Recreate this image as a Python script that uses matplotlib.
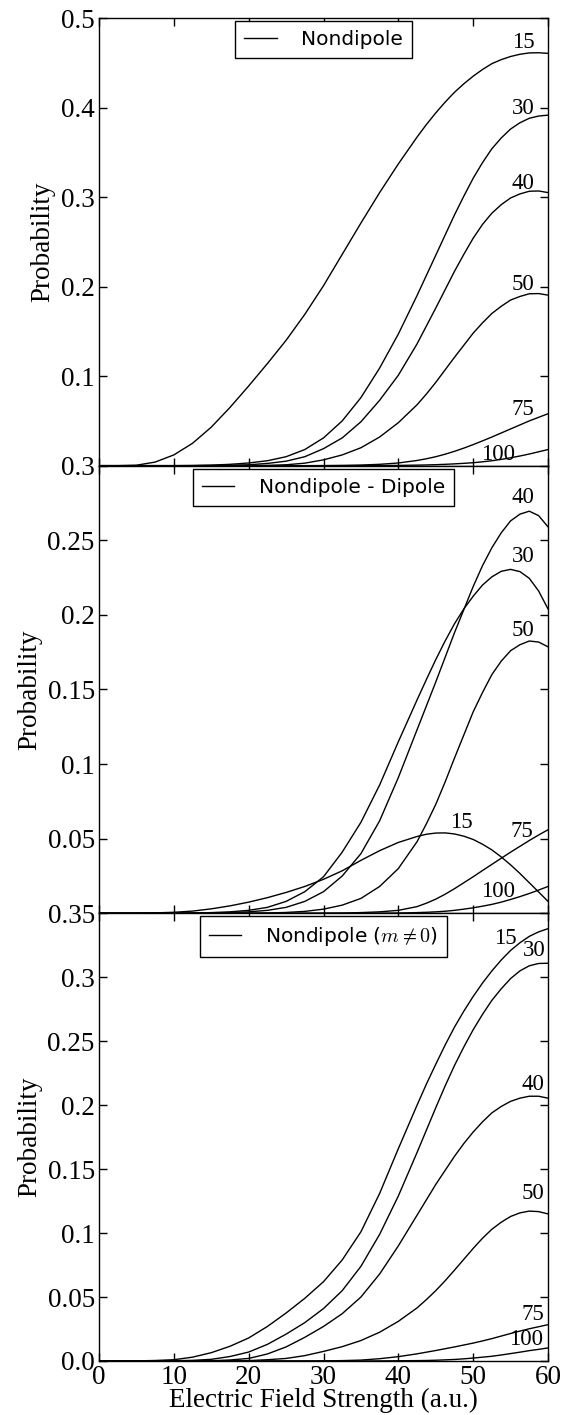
import matplotlib
matplotlib.use("Agg")
import matplotlib.pyplot as plt

# field strength grid (a.u.): every 2.5 up to 42.5, then every 1.25
field = [0, 2.5, 5, 7.5, 10, 12.5, 15, 17.5, 20, 22.5, 25, 27.5, 30, 32.5, 35,
         37.5, 40, 42.5, 43.75, 45, 46.25, 47.5, 48.75, 50, 51.25, 52.5, 53.75,
         55, 56.25, 57.5, 58.75, 60]

# --- panel 1: Nondipole
p1_15 = [0, 0, 0.0005, 0.004, 0.012, 0.025, 0.043, 0.065, 0.089, 0.114, 0.140, 0.169,
         0.201, 0.236, 0.271, 0.305, 0.337, 0.367,
         0.381, 0.394, 0.406, 0.417, 0.4265, 0.435, 0.4425, 0.449, 0.4535, 0.457,
         0.4595, 0.461, 0.4612, 0.4605]
p1_30 = [0, 0, 0, 0, 0, 0.0002, 0.0006, 0.0015, 0.003, 0.0055, 0.010, 0.018,
         0.031, 0.050, 0.076, 0.109, 0.147, 0.190,
         0.2125, 0.235, 0.2575, 0.280, 0.301, 0.321, 0.3385, 0.354, 0.366, 0.376,
         0.383, 0.388, 0.3905, 0.3915]
p1_40 = [0, 0, 0, 0, 0, 0, 0.0002, 0.0005, 0.001, 0.0025, 0.005, 0.010,
         0.019, 0.031, 0.049, 0.073, 0.101, 0.136,
         0.156, 0.176, 0.1965, 0.217, 0.236, 0.254, 0.2695, 0.282, 0.2915, 0.299,
         0.3035, 0.3065, 0.3068, 0.305]
p1_50 = [0, 0, 0, 0, 0, 0, 0, 0, 0, 0.0003, 0.001, 0.0028,
         0.0065, 0.012, 0.020, 0.032, 0.048, 0.068,
         0.080, 0.093, 0.107, 0.121, 0.1345, 0.148, 0.1595, 0.170, 0.178, 0.185,
         0.189, 0.192, 0.1922, 0.1905]
p1_75 = [0, 0, 0, 0, 0, 0, 0, 0, 0, 0, 0, 0,
         0.0001, 0.0003, 0.0007, 0.0015, 0.003, 0.0058,
         0.0077, 0.010, 0.0128, 0.016, 0.0196, 0.0235, 0.0277, 0.032, 0.0365, 0.041,
         0.0455, 0.050, 0.054, 0.058]
p1_100 = [0, 0, 0, 0, 0, 0, 0, 0, 0, 0, 0, 0,
          0, 0, 0, 0.0001, 0.0003, 0.0006,
          0.0008, 0.0011, 0.0015, 0.002, 0.0026, 0.0033, 0.0043, 0.0055, 0.007, 0.0088,
          0.0108, 0.013, 0.0155, 0.018]

# --- panel 2: Nondipole - Dipole
p2_15 = [0, 0, 0.0001, 0.0003, 0.0007, 0.0015, 0.003, 0.005, 0.0075, 0.0105, 0.014, 0.018,
         0.0228, 0.0285, 0.0355, 0.042, 0.0475, 0.0515,
         0.0530, 0.0538, 0.0539, 0.0532, 0.0517, 0.0495, 0.0463, 0.0425, 0.0378, 0.0325,
         0.0267, 0.0205, 0.0143, 0.008]
p2_30 = [0, 0, 0, 0, 0, 0.0002, 0.0005, 0.001, 0.002, 0.004, 0.008, 0.0145,
         0.0245, 0.041, 0.061, 0.086, 0.115, 0.143,
         0.1567, 0.170, 0.1825, 0.194, 0.2040, 0.2125, 0.2200, 0.2255, 0.2292, 0.2305,
         0.2290, 0.2245, 0.2160, 0.204]
p2_40 = [0, 0, 0, 0, 0, 0, 0.0002, 0.0005, 0.001, 0.002, 0.004, 0.008,
         0.0145, 0.025, 0.040, 0.062, 0.091, 0.123,
         0.139, 0.155, 0.1715, 0.188, 0.2035, 0.219, 0.233, 0.245, 0.255, 0.263,
         0.2675, 0.2695, 0.2665, 0.259]
p2_50 = [0, 0, 0, 0, 0, 0, 0, 0, 0, 0.0002, 0.0006, 0.0013,
         0.0028, 0.0055, 0.010, 0.018, 0.030, 0.048,
         0.060, 0.073, 0.088, 0.104, 0.1195, 0.135, 0.148, 0.160, 0.169, 0.176,
         0.180, 0.1825, 0.1818, 0.1786]
p2_75 = [0, 0, 0, 0, 0, 0, 0, 0, 0, 0, 0, 0,
         0.0001, 0.0002, 0.0005, 0.001, 0.002, 0.0045,
         0.0068, 0.0095, 0.0128, 0.0165, 0.0205, 0.0245, 0.0287, 0.0328, 0.0369, 0.041,
         0.0449, 0.0488, 0.0525, 0.056]
p2_100 = [0, 0, 0, 0, 0, 0, 0, 0, 0, 0, 0, 0,
          0, 0, 0, 0.0001, 0.0002, 0.0005,
          0.0007, 0.001, 0.0014, 0.002, 0.0028, 0.0037, 0.0048, 0.006, 0.0075, 0.0093,
          0.0112, 0.0133, 0.0156, 0.018]

# --- panel 3: Nondipole (m != 0)
p3_15 = [0, 0, 0.0001, 0.0004, 0.001, 0.003, 0.0065, 0.0115, 0.018, 0.027, 0.0375, 0.049,
         0.062, 0.079, 0.101, 0.131, 0.166, 0.200,
         0.2165, 0.232, 0.247, 0.261, 0.2735, 0.285, 0.2955, 0.305, 0.3135, 0.321,
         0.327, 0.332, 0.3355, 0.338]
p3_30 = [0, 0, 0, 0, 0.0002, 0.0005, 0.0013, 0.0035, 0.007, 0.013, 0.021, 0.030,
         0.041, 0.055, 0.074, 0.099, 0.129, 0.163,
         0.1805, 0.198, 0.215, 0.231, 0.2455, 0.259, 0.271, 0.282, 0.291, 0.299,
         0.305, 0.309, 0.3108, 0.311]
p3_40 = [0, 0, 0, 0, 0, 0, 0.0002, 0.0008, 0.002, 0.0055, 0.011, 0.0185,
         0.027, 0.037, 0.050, 0.068, 0.090, 0.114,
         0.126, 0.138, 0.149, 0.160, 0.170, 0.179, 0.187, 0.194, 0.199, 0.203,
         0.2055, 0.207, 0.207, 0.2055]
p3_50 = [0, 0, 0, 0, 0, 0, 0, 0, 0.0003, 0.001, 0.002, 0.0042,
         0.0075, 0.0112, 0.016, 0.0225, 0.031, 0.0415,
         0.048, 0.055, 0.0627, 0.071, 0.0795, 0.088, 0.096, 0.103, 0.1085, 0.113,
         0.1158, 0.1172, 0.1168, 0.115]
p3_75 = [0, 0, 0, 0, 0, 0, 0, 0, 0, 0, 0, 0,
         0.0001, 0.0003, 0.0007, 0.0018, 0.0034, 0.0056,
         0.0069, 0.0082, 0.0096, 0.011, 0.0125, 0.014, 0.0157, 0.0175, 0.0195, 0.0215,
         0.0234, 0.0252, 0.0268, 0.0284]
p3_100 = [0, 0, 0, 0, 0, 0, 0, 0, 0, 0, 0, 0,
          0, 0, 0, 0.0001, 0.0002, 0.0003,
          0.0004, 0.0006, 0.0009, 0.0012, 0.0017, 0.0023, 0.003, 0.0037, 0.0047, 0.0058,
          0.0069, 0.0081, 0.0091, 0.0102]

curve_names = ["15", "30", "40", "50", "75", "100"]

panels = [
    dict(curves=[p1_15, p1_30, p1_40, p1_50, p1_75, p1_100],
         legend="Nondipole", ymax=0.5,
         yticks=[0.1, 0.2, 0.3, 0.4, 0.5],
         yticklabels=["0.1", "0.2", "0.3", "0.4", "0.5"],
         labelpos=[(58.2, 0.473), (58.2, 0.399), (58.2, 0.315),
                   (58.2, 0.202), (58.2, 0.063), (55.6, 0.012)]),
    dict(curves=[p2_15, p2_30, p2_40, p2_50, p2_75, p2_100],
         legend="Nondipole - Dipole", ymax=0.3,
         yticks=[0.05, 0.1, 0.15, 0.2, 0.25, 0.3],
         yticklabels=["0.05", "0.1", "0.15", "0.2", "0.25", "0.3"],
         labelpos=[(50.0, 0.0606), (58.2, 0.2394), (58.2, 0.279),
                   (58.2, 0.1893), (58.0, 0.055), (55.6, 0.0149)]),
    dict(curves=[p3_15, p3_30, p3_40, p3_50, p3_75, p3_100],
         legend="Nondipole ($m \\neq 0$)", ymax=0.35,
         yticks=[0, 0.05, 0.1, 0.15, 0.2, 0.25, 0.3, 0.35],
         yticklabels=["0.0", "0.05", "0.1", "0.15", "0.2", "0.25", "0.3", "0.35"],
         labelpos=[(55.8, 0.3305), (59.7, 0.3208), (59.5, 0.216),
                   (59.5, 0.131), (59.5, 0.0362), (59.3, 0.0167)]),
]

plt.rcParams['font.family'] = ['Liberation Serif', 'DejaVu Serif']
plt.rcParams['mathtext.fontset'] = 'cm'

fig = plt.figure(figsize=(5.71, 14.15), dpi=100)

left, width = 99 / 571, 449 / 571
h = (1361 - 18) / 3 / 1415
bottom0 = (1415 - 1361) / 1415

axes = []
for i, p in enumerate(panels):
    ax = fig.add_axes([left, bottom0 + (2 - i) * h, width, h])
    axes.append(ax)
    for j, ys in enumerate(p["curves"]):
        ax.plot(field, ys, color="black", lw=1.0,
                label=p["legend"] if j == 0 else None)
        tx, ty = p["labelpos"][j]
        ax.text(tx, ty, curve_names[j], ha="right", va="center", fontsize=16.5)
    ax.set_xlim(0, 60)
    ax.set_ylim(0, p["ymax"])
    ax.set_yticks(p["yticks"])
    ax.set_yticklabels(p["yticklabels"])
    ax.set_xticks([0, 10, 20, 30, 40, 50, 60])
    ax.tick_params(direction="in", top=True, right=True, length=6, width=1,
                   labelsize=19.5)
    ax.tick_params(axis="y", pad=3)
    ax.tick_params(axis="x", pad=3)
    for s in ax.spines.values():
        s.set_linewidth(1.0)
    ax.set_ylabel("Probability", fontsize=19.5)
    leg = ax.legend(loc="upper center", bbox_to_anchor=(0.5, 1.0),
                    borderaxespad=0.15, fancybox=False, framealpha=1,
                    handlelength=1.6, handletextpad=1.2, borderpad=0.45,
                    prop={"family": "DejaVu Sans", "size": 14.5})
    leg.get_frame().set_edgecolor("black")
    leg.get_frame().set_linewidth(1.0)
    if i < 2:
        ax.tick_params(axis="x", labelbottom=False)

axes[-1].set_xlabel("Electric Field Strength (a.u.)", fontsize=19.5, labelpad=-2)

fig.savefig("out.png", dpi=100)
